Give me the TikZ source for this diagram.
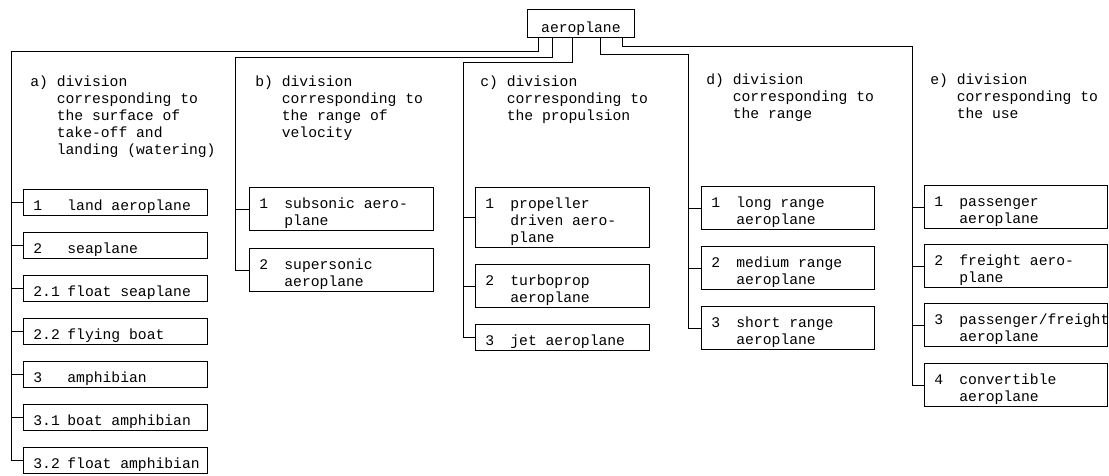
\documentclass[tikz,border=0pt]{standalone}
\usepackage{fontspec}
\setmonofont{Liberation Mono}

\tikzstyle{every picture}+=[x=1pt, y=-1pt, line width=0.8pt]
\tikzstyle{typed}=[font=\ttfamily\fontsize{14.7}{17}\selectfont]
\tikzstyle{rootbox}=[typed, draw, anchor=north west, inner ysep=0pt, minimum width=107pt]
\tikzstyle{leafbox}=[typed, draw, anchor=north west, inner sep=0pt]
\tikzstyle{headtext}=[typed, anchor=base west, inner sep=0pt]

\begin{document}
\begin{tikzpicture}
	\newcommand\leaf[7]{
		\node[leafbox, text width=#4pt] (#1) at (#2,#3) {%
			\hspace*{10pt}\makebox[#5pt][l]{#6}%
			\parbox[t]{160pt}{\spaceskip=0pt\xspaceskip=0pt\relax
				\rule{0pt}{21pt}#7\rule[-5pt]{0pt}{5pt}}%
		} ;
	}
	\newcommand\heading[5]{
		\node[headtext] (#1) at (#2,#3) {%
			\makebox[26.4pt][l]{#4)}\parbox[t]{170pt}{#5}%
		} ;
	}
	\useasboundingbox (0,0) rectangle (1109,476) ;

	\node[rootbox] (root) at (527,9) {\rule{0pt}{23pt}aeroplane\rule[-5pt]{0pt}{5pt}} ;

	\heading{ha}{30}{87}{a}{division\\corresponding to\\the surface of\\take-off and\\landing (watering)}
	\heading{hb}{255}{87}{b}{division\\corresponding to\\the range of\\velocity}
	\heading{hc}{480}{87}{c}{division\\corresponding to\\the propulsion}
	\heading{hd}{706}{85}{d}{division\\corresponding to\\the range}
	\heading{he}{930}{85}{e}{division\\corresponding to\\the use}

	\leaf{a1}{23}{189}{184}{34}{1}{land aeroplane}
	\leaf{a2}{23}{232}{184}{34}{2}{seaplane}
	\leaf{a3}{23}{275}{184}{34}{2.1}{float seaplane}
	\leaf{a4}{23}{318}{184}{34}{2.2}{flying boat}
	\leaf{a5}{23}{361}{184}{34}{3}{amphibian}
	\leaf{a6}{23}{404}{184}{34}{3.1}{boat amphibian}
	\leaf{a7}{23}{447}{184}{34}{3.2}{float amphibian}

	\leaf{b1}{249}{187}{184}{25}{1}{subsonic aero-\\plane}
	\leaf{b2}{249}{248}{184}{25}{2}{supersonic\\aeroplane}

	\leaf{c1}{475}{187}{174}{25}{1}{propeller\\driven aero-\\plane}
	\leaf{c2}{475}{264}{174}{25}{2}{turboprop\\aeroplane}
	\leaf{c3}{475}{324}{174}{25}{3}{jet aeroplane}

	\leaf{d1}{701}{186}{173}{25}{1}{long range\\aeroplane}
	\leaf{d2}{701}{246}{173}{25}{2}{medium range\\aeroplane}
	\leaf{d3}{701}{306}{173}{25}{3}{short range\\aeroplane}

	\leaf{e1}{924}{185}{183}{25}{1}{passenger\\aeroplane}
	\leaf{e2}{924}{244}{183}{25}{2}{freight aero-\\plane}
	\leaf{e3}{924}{303}{183}{25}{3}{passenger/freight\\aeroplane}
	\leaf{e4}{924}{363}{183}{25}{4}{convertible\\aeroplane}

	\coordinate (fa) at (11,51) ;
	\coordinate (fb) at (235,57) ;
	\coordinate (fc) at (463,62) ;
	\coordinate (fd) at (688,54) ;
	\coordinate (fe) at (912,46) ;

	\draw ([xshift=11pt]root.south west) |- (fa) |- (a7.west) ;
	\draw ([xshift=25pt]root.south west) |- (fb) |- (b2.west) ;
	\draw ([xshift=45pt]root.south west) |- (fc) |- (c3.west) ;
	\draw ([xshift=73pt]root.south west) |- (fd) |- (d3.west) ;
	\draw ([xshift=95pt]root.south west) |- (fe) |- (e4.west) ;
	\foreach \col/\last in {a/6,b/1,c/2,d/2,e/3}
		\foreach \n in {1,...,\last}
			\draw (f\col |- \col\n.west) -- (\col\n.west) ;
\end{tikzpicture}
\end{document}
